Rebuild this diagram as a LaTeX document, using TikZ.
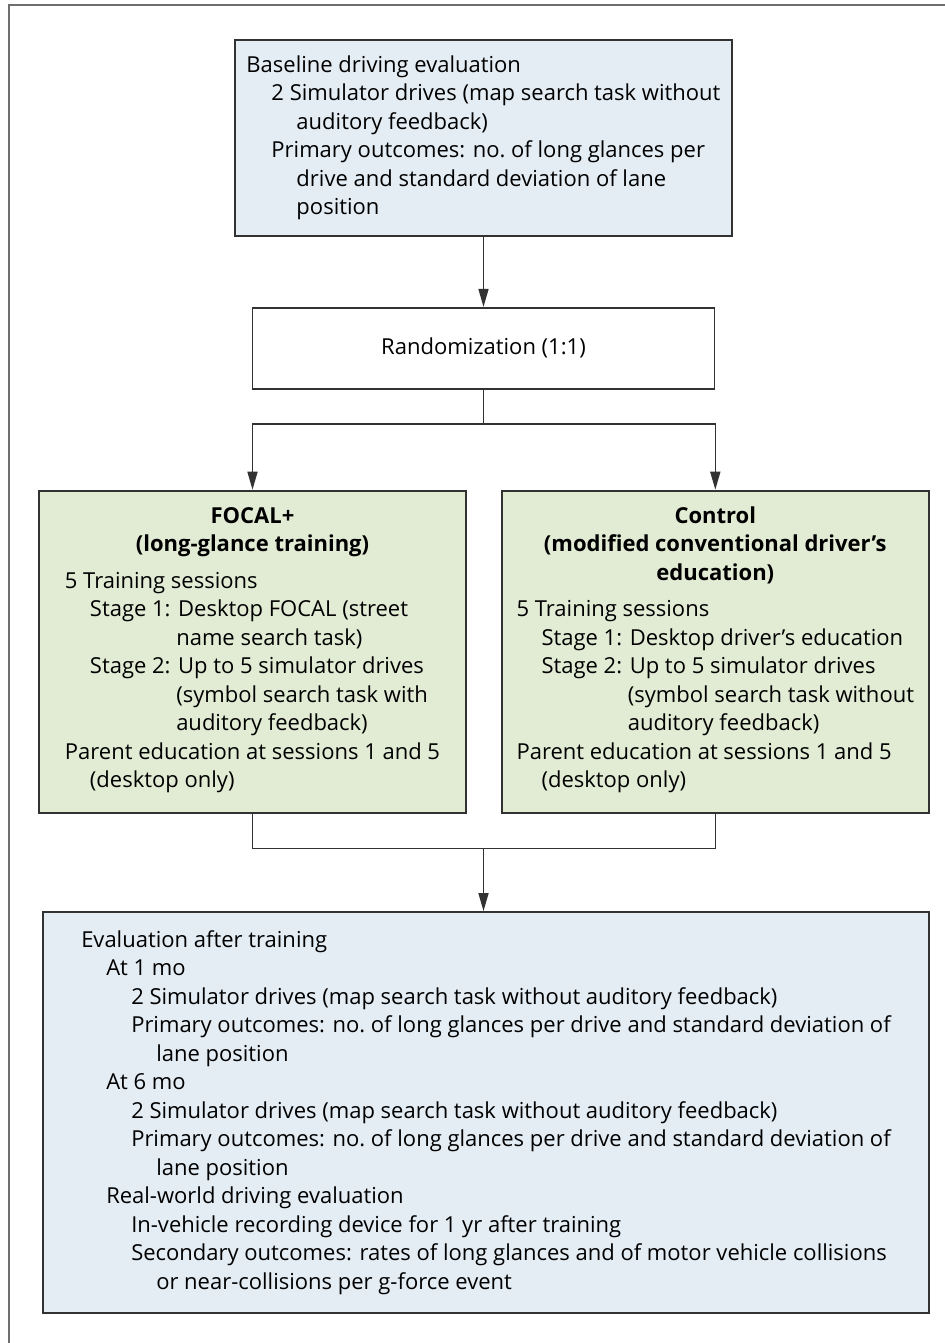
\documentclass[tikz,border=0pt]{standalone}
\usepackage{fontspec}
\setmainfont{Open Sans}
\definecolor{baseblue}{RGB}{228,237,244}
\definecolor{armgreen}{RGB}{226,235,212}
\definecolor{boxline}{RGB}{50,50,50}
\definecolor{framegray}{RGB}{110,110,110}
\usetikzlibrary{arrows.meta, positioning}
\newcommand{\hin}{\hspace*{12.5pt}}

\begin{document}
\begin{tikzpicture}[
      font=\fontsize{11}{14.25}\selectfont,
      stage/.style={rectangle, draw=boxline, line width=0.9pt, align=left, inner sep=0pt},
      base/.style={stage, fill=baseblue},
      arm/.style={stage, fill=armgreen, align=center, minimum width=213.5pt, minimum height=161pt},
      link/.style={draw=boxline, line width=0.8pt},
      arr/.style={link, -{Triangle[length=9pt, width=5pt]}}
    ]
      \useasboundingbox (0,0) rectangle (472pt,-671.5pt);
      % outer frame, only left and top edges show
      \draw[framegray, line width=1.4pt] (4.5pt,-690pt) |- (490pt,-2.5pt);

      % Baseline evaluation
      \node[base, minimum width=248.5pt, minimum height=98pt] (baseline) at (241.75pt,-69pt)
        {Baseline driving evaluation\\
         \hin 2 Simulator drives (map search task without\\
         \hin\hin auditory feedback)\\
         \hin Primary outcomes: no.\ of long glances per\\
         \hin\hin drive and standard deviation of lane\\
         \hin\hin position};

      % Randomization
      \node[stage, fill=white, minimum width=231pt, minimum height=40.5pt, below=35pt of baseline] (random)
        {Randomization (1:1)};

      % Study arms
      \node[arm, below=50pt of random, xshift=-115.5pt] (focal)
        {\textbf{FOCAL+}\\
         \textbf{(long-glance training)}\\[4pt]
         \begin{tabular}[t]{@{}l@{}}
         5 Training sessions\\
         \hin Stage 1: Desktop FOCAL (street\\
         \hin\phantom{Stage 1:\ }name search task)\\
         \hin Stage 2: Up to 5 simulator drives\\
         \hin\phantom{Stage 2:\ }(symbol search task with\\
         \hin\phantom{Stage 2:\ }auditory feedback)\\
         Parent education at sessions 1 and 5\\
         \hin (desktop only)
         \end{tabular}};
      \node[arm, right=17pt of focal] (control)
        {\textbf{Control}\\
         \textbf{(modified conventional driver's}\\
         \textbf{education)}\\[4pt]
         \begin{tabular}[t]{@{}l@{}}
         5 Training sessions\\
         \hin Stage 1: Desktop driver's education\\
         \hin Stage 2: Up to 5 simulator drives\\
         \hin\phantom{Stage 2:\ }(symbol search task without\\
         \hin\phantom{Stage 2:\ }auditory feedback)\\
         Parent education at sessions 1 and 5\\
         \hin (desktop only)
         \end{tabular}};

      % Evaluation after training
      \node[base, minimum width=443pt, minimum height=200.5pt] (eval) at (243pt,-556.25pt)
        {Evaluation after training\\
         \hin At 1 mo\\
         \hin\hin 2 Simulator drives (map search task without auditory feedback)\\
         \hin\hin Primary outcomes: no.\ of long glances per drive and standard deviation of\\
         \hin\hin\hin lane position\\
         \hin At 6 mo\\
         \hin\hin 2 Simulator drives (map search task without auditory feedback)\\
         \hin\hin Primary outcomes: no.\ of long glances per drive and standard deviation of\\
         \hin\hin\hin lane position\\
         \hin Real-world driving evaluation\\
         \hin\hin In-vehicle recording device for 1 yr after training\\
         \hin\hin Secondary outcomes: rates of long glances and of motor vehicle collisions\\
         \hin\hin\hin or near-collisions per g-force event};

      % Connectors
      \draw[arr] (baseline.south) -- (random.north);
      \draw[arr] (random.south) -- ++(0,-17pt) -| (focal.north);
      \draw[arr] (random.south) -- ++(0,-17pt) -| (control.north);
      \path (focal.south) -- ++(0,-17.5pt) coordinate (mergey);
      \coordinate (merge) at (random.south |- mergey);
      \draw[link] (focal.south) |- (merge) -| (control.south);
      \draw[arr] (merge) -- (merge |- eval.north);
    \end{tikzpicture}
\end{document}
